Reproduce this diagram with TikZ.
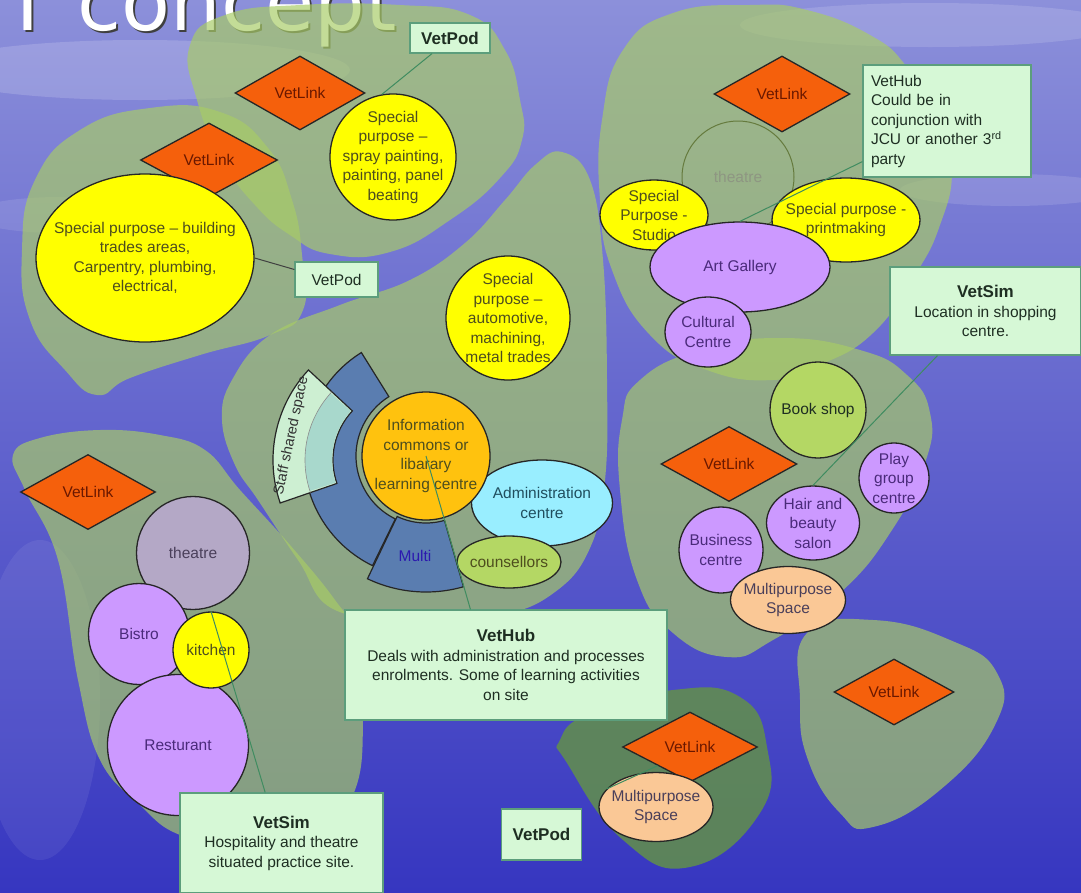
\documentclass[tikz,border=0pt]{standalone}
\usepackage{fontspec}
\setmainfont{Liberation Sans}
\newfontfamily\titlefont{DejaVu Sans}
\usetikzlibrary{shapes.geometric,calc}
\definecolor{skytop}{HTML}{8C90DA}
\definecolor{skymid}{HTML}{5052CC}
\definecolor{skybot}{HTML}{3636C0}
\definecolor{blobc}{HTML}{A8CC66}
\definecolor{blobdark}{HTML}{62904A}
\definecolor{vlinkc}{HTML}{F5600C}
\definecolor{vltext}{HTML}{6A1800}
\definecolor{yel}{HTML}{FFFF00}
\definecolor{ytext}{HTML}{4E4E1E}
\definecolor{lav}{HTML}{CC99FF}
\definecolor{lavtext}{HTML}{4A2A7A}
\definecolor{thgrey}{HTML}{B4A8C6}
\definecolor{thtext}{HTML}{4A3F5A}
\definecolor{lime}{HTML}{B4D764}
\definecolor{cyanc}{HTML}{99EEFF}
\definecolor{cyantext}{HTML}{204E5E}
\definecolor{peach}{HTML}{FAC896}
\definecolor{infoc}{HTML}{FFC20E}
\definecolor{bandc}{HTML}{5A7DB0}
\definecolor{mintc}{HTML}{CDEFD2}
\definecolor{tealc}{HTML}{A8D8CC}
\definecolor{boxfill}{HTML}{D6F8D6}
\definecolor{boxline}{HTML}{5C9E7C}
\definecolor{boxtext}{HTML}{1E2E22}
\definecolor{connc}{HTML}{3F8C60}
\definecolor{fadetext}{HTML}{8E9682}
\begin{document}
\begin{tikzpicture}[x=1pt,y=-1pt,
  font=\fontsize{15.5}{19.5}\selectfont,
  blob/.style={fill=blobc,fill opacity=0.68},
  darkblob/.style={fill=blobdark,fill opacity=0.85},
  shp/.style={draw=black!85,line width=1.3pt,inner sep=0pt},
  wedge/.style={draw=black!85,line width=1.2pt},
  vl/.style={shp,diamond,aspect=2,fill=vlinkc,text=vltext},
  tx/.style={align=center,inner sep=0pt},
  box/.style={draw=boxline,line width=1.2pt,fill=boxfill,text=boxtext,inner sep=0pt,align=center},
  hd/.style={font=\fontsize{17}{21}\selectfont\bfseries},
  conn/.style={draw=connc,line width=1pt},
]
\useasboundingbox (0,0) rectangle (1081,892);
\clip (0,0) rectangle (1081,892);
% background
\shade[top color=skytop,middle color=skymid,bottom color=skybot] (0,0) rectangle (1081,892);
\fill[white,opacity=0.16] (140,70) ellipse [x radius=210,y radius=30];
\fill[white,opacity=0.14] (930,25) ellipse [x radius=190,y radius=22];
\fill[white,opacity=0.12] (1010,190) ellipse [x radius=110,y radius=16];
\fill[white,opacity=0.10] (60,215) ellipse [x radius=90,y radius=18];
\fill[white,opacity=0.07] (40,700) ellipse [x radius=60,y radius=160];
% title
\node[anchor=base west,text=black!75,font=\titlefont\fontsize{80}{80}\selectfont] (titlesh) at (2,32) {T concept};
\node[anchor=base west,text=white,font=\titlefont\fontsize{80}{80}\selectfont] (title) at (0,30) {T concept};
% blobs
\fill[blob] plot[smooth cycle,tension=0.8] coordinates {(190,45) (225,15) (300,5) (400,5) (470,15) (505,50) (520,100) (522,140) (500,178) (450,220) (390,252) (330,254) (290,235) (255,205) (222,160) (197,100)};
\fill[blob] plot[smooth cycle,tension=0.8] coordinates {(80,130) (150,108) (220,112) (268,148) (292,200) (302,255) (303,310) (270,335) (200,355) (130,378) (97,395) (65,370) (30,320) (22,250) (35,180)};
\fill[blob] plot[smooth cycle,tension=0.7] coordinates {(335,610) (420,618) (500,615) (555,592) (590,548) (605,480) (607,380) (603,260) (590,180) (562,152) (535,165) (505,200) (465,243) (410,280) (340,305) (270,335) (232,380) (222,420) (235,465) (258,500) (298,560)};
\fill[blob] plot[smooth cycle,tension=0.8] coordinates {(623,50) (673,13) (750,5) (807,10) (870,35) (907,67) (940,120) (952,170) (940,225) (915,275) (873,333) (820,365) (773,380) (707,370) (650,335) (612,270) (600,200) (602,120)};
\fill[blob] plot[smooth cycle,tension=0.8] coordinates {(640,380) (700,350) (780,338) (860,350) (907,375) (930,413) (925,463) (892,530) (840,593) (773,640) (727,657) (673,633) (637,580) (620,490) (622,420)};
\fill[blob] plot[smooth cycle,tension=0.7] coordinates {(13,455) (40,438) (100,430) (160,435) (205,450) (240,490) (290,545) (335,600) (358,640) (363,720) (355,790) (320,835) (250,850) (180,835) (140,805) (100,760) (78,680) (58,560) (25,490)};
\fill[darkblob] plot[smooth cycle,tension=0.8] coordinates {(590,713) (673,690) (740,697) (767,747) (760,813) (690,867) (623,840) (567,763) (560,740)};
\fill[blob] plot[smooth cycle,tension=0.8] coordinates {(807,633) (873,620) (950,640) (997,673) (995,725) (940,790) (873,827) (840,813) (808,760) (800,700)};
% top-left group
\node[vl,minimum width=137pt,minimum height=74pt] (vl2) at (209,160) {VetLink};
\node[shp,ellipse,fill=yel,minimum width=218pt,minimum height=168pt,label={[tx,text=ytext]center:{Special purpose – building\\trades areas,\\Carpentry, plumbing,\\electrical,}}] (bt) at (145,258) {};
\node[vl,minimum width=130pt,minimum height=74pt] (vl1) at (300,93) {VetLink};
\node[shp,circle,fill=yel,minimum size=126pt,label={[tx,text=ytext]center:{Special\\purpose –\\spray painting,\\painting, panel\\beating}}] (spray) at (393,157) {};
\node[box,hd,minimum width=80pt,minimum height=30pt] (vp1) at (450,38) {VetPod};
\node[box,minimum width=83pt,minimum height=35pt] (vp2) at (336.5,279.5) {VetPod};
\node[shp,circle,fill=yel,minimum size=124pt,label={[tx,text=ytext]center:{Special\\purpose –\\automotive,\\machining,\\metal trades}}] (auto) at (508,318) {};
% top-right group
\node[vl,minimum width=136pt,minimum height=76pt] (vl3) at (782,94) {VetLink};
\node[circle,draw=black!40!blobc,line width=1pt,minimum size=112pt,inner sep=0pt,label={[tx,text=fadetext]center:theatre}] (th2) at (738,177) {};
\node[shp,ellipse,fill=yel,minimum width=108pt,minimum height=70pt,label={[tx,text=ytext]center:{Special\\Purpose -\\Studio}}] (studio) at (654,215) {};
\node[shp,ellipse,fill=yel,minimum width=148pt,minimum height=84pt,label={[tx,text=ytext]center:{Special purpose -\\printmaking}}] (print) at (846,220) {};
\node[shp,ellipse,fill=lav,minimum width=180pt,minimum height=90pt,label={[tx,text=lavtext]center:Art Gallery}] (ag) at (740,267) {};
\node[shp,ellipse,fill=lav,minimum width=86pt,minimum height=70pt,label={[tx,text=lavtext]center:{Cultural\\Centre}}] (cc) at (708,332) {};
\node[box,align=left,text width=152pt,minimum width=168pt,minimum height=112pt] (vh2) at (947,121) {VetHub\\Could be in\\conjunction with\\JCU or another 3\textsuperscript{rd}\\party};
\node[box,minimum width=191pt,minimum height=88pt] (vs1) at (985.5,311) {{\fontsize{17}{21}\selectfont\bfseries VetSim}\\Location in shopping\\centre.};
% right-middle group
\node[shp,circle,fill=lime,minimum size=96pt,label={[tx,text=boxtext]center:Book shop}] (bs) at (818,410) {};
\node[vl,minimum width=136pt,minimum height=75pt] (vl4) at (729,464) {VetLink};
\node[shp,circle,fill=lav,minimum size=70pt,label={[tx,text=lavtext]center:{Play\\group\\centre}}] (pg) at (894,478) {};
\node[shp,ellipse,fill=lav,minimum width=93pt,minimum height=74pt,label={[tx,text=lavtext]center:{Hair and\\beauty\\salon}}] (hb) at (813,523) {};
\node[shp,ellipse,fill=lav,minimum width=84pt,minimum height=86pt,label={[tx,text=lavtext]center:{Business\\centre}}] (bc) at (721,550) {};
\node[shp,ellipse,fill=peach,minimum width=115pt,minimum height=67pt,label={[tx,text=thtext]center:{Multipurpose\\Space}}] (mp1) at (788,600) {};
% central hub
\coordinate (C) at (426,456);
\coordinate (S) at (405,460);
\path[wedge,fill=bandc] ($(C)+(116:70)$) arc[start angle=116,end angle=238,radius=70] -- ($(C)+(238:122)$) arc[start angle=238,end angle=116,radius=122] -- cycle;
\path[wedge,fill=bandc] ($(C)+(74:67)$) arc[start angle=74,end angle=115.5,radius=67] -- ($(C)+(115.5:136)$) arc[start angle=115.5,end angle=74,radius=136] -- cycle;
\node[text=lavtext!60!blue] (multi) at (415,556) {Multi};
\path[wedge,fill=mintc] ($(S)+(161:72)$) arc[start angle=161,end angle=223,radius=72] -- ($(S)+(223:132)$) arc[start angle=223,end angle=161,radius=132] -- cycle;
\path[fill=tealc] ($(S)+(162:73)$) arc[start angle=162,end angle=222,radius=73] -- ($(S)+(222:100)$) arc[start angle=222,end angle=162,radius=100] -- cycle;
\draw[black!45,line width=0.6pt] ($(S)+(161:100)$) arc[start angle=161,end angle=223,radius=100];
\node[rotate=78,text=black!80,font=\fontsize{14.5}{17}\selectfont] (staff) at ($(S)+(192:116)$) {Staff shared space};
\node[shp,ellipse,fill=cyanc,minimum width=141pt,minimum height=86pt,label={[tx,text=cyantext]center:{Administration\\centre}}] (adm) at (542,503) {};
\node[shp,circle,fill=infoc,minimum size=128pt,label={[tx,text=ytext]center:{Information\\commons or\\libarary\\learning centre}}] (ic) at (C) {};
\node[shp,ellipse,fill=lime,minimum width=104pt,minimum height=52pt,label={[tx,text=ytext]center:counsellors}] (cs) at (509,562) {};
\node[box,minimum width=322pt,minimum height=110pt] (vh1) at (506,665) {{\fontsize{17}{22}\selectfont\bfseries VetHub}\\Deals with administration and processes\\enrolments. Some of learning activities\\on site};
% bottom-left group
\node[vl,minimum width=135pt,minimum height=75pt] (vl5) at (88,492) {VetLink};
\node[shp,circle,fill=thgrey,minimum size=113pt,label={[tx,text=thtext]center:theatre}] (th1) at (193,553) {};
\node[shp,circle,fill=lav,minimum size=101pt,label={[tx,text=lavtext]center:Bistro}] (bis) at (139,634) {};
\node[shp,circle,fill=lav,minimum size=141pt,label={[tx,text=lavtext]center:Resturant}] (res) at (178,745) {};
\node[shp,circle,fill=yel,minimum size=76pt,label={[tx,text=ytext]center:kitchen}] (kit) at (211,650) {};
\node[box,minimum width=203pt,minimum height=100pt] (vs2) at (281.5,843) {{\fontsize{17}{21}\selectfont\bfseries VetSim}\\Hospitality and theatre\\situated practice site.};
% bottom-centre group
\node[vl,minimum width=135pt,minimum height=70pt] (vl6) at (690,747) {VetLink};
\node[shp,ellipse,fill=peach,minimum width=114pt,minimum height=69pt,label={[tx,text=thtext]center:{Multipurpose\\Space}}] (mp2) at (656,807) {};
\node[box,hd,minimum width=80pt,minimum height=51pt] (vp3) at (541.5,834.5) {VetPod};
% bottom-right group
\node[vl,minimum width=120pt,minimum height=66pt] (vl7) at (894,692) {VetLink};
% connectors
\draw[conn] ([xshift=-18pt]vp1.south) -- (spray.100);
\draw[conn,draw=black!75] (bt.east) -- ([yshift=10pt]vp2.west);
\draw[conn] ([yshift=16pt]vh2.south west) -- (ag.north);
\draw[conn] ($(vs1.south west)!0.25!(vs1.south east)$) -- (hb.north);
\draw[conn] ($(vh1.north west)!0.39!(vh1.north east)$) -- (ic.center);
\draw[conn] (kit.north) -- ($(vs2.north west)!0.42!(vs2.north east)$);
\draw[conn] (mp2.160) -- (vl6.210);
\end{tikzpicture}
\end{document}
